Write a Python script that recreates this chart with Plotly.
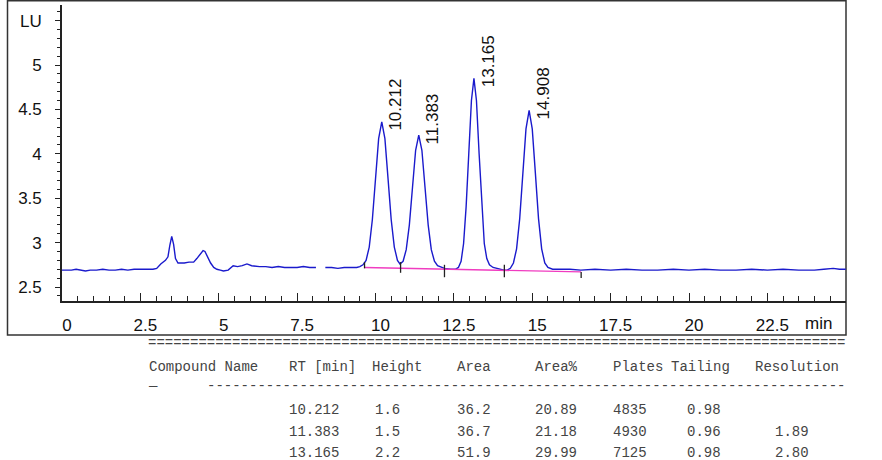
import plotly.graph_objects as go

# ---------------- data ----------------
time_min = [0.0, 0.15, 0.3, 0.45, 0.6, 0.75, 0.9, 1.1, 1.3, 1.5, 1.7, 1.9, 2.1, 2.3, 2.5, 2.7, 2.9,
            3.02, 3.15, 3.3, 3.38, 3.44, 3.5, 3.56, 3.62, 3.7, 3.76, 3.9, 4.05, 4.2, 4.3, 4.4, 4.5, 4.56,
            4.64, 4.74, 4.84, 4.94, 5.05, 5.15, 5.3, 5.46, 5.6, 5.75, 5.9, 6.05, 6.3, 6.5, 6.7, 6.9,
            7.1, 7.3, 7.5, 7.7, 7.9, 8.1, 8.25, 8.4, 8.6, 8.8, 9.0, 9.2, 9.4, 9.5, 9.6,
            9.7, 9.8, 9.9, 10.0, 10.1, 10.2, 10.3, 10.4, 10.5, 10.6, 10.7, 10.78,
            10.88, 10.98, 11.08, 11.18, 11.28, 11.38, 11.48, 11.58, 11.68, 11.78, 11.88, 11.98, 12.1, 12.2,
            12.4, 12.55, 12.645, 12.73, 12.81, 12.89, 12.975, 13.06, 13.14, 13.22, 13.305, 13.39, 13.47, 13.55,
            13.635, 13.75, 13.95, 14.1, 14.2,
            14.3, 14.4, 14.5, 14.6, 14.7, 14.8, 14.9, 15.0, 15.1, 15.2, 15.3, 15.4, 15.5, 15.65,
            15.9, 16.2, 16.55, 17.0, 17.5, 18.0, 18.5, 19.0, 19.5, 20.0, 20.5, 21.0, 21.5, 22.0,
            22.5, 23.0, 23.5, 24.0, 24.3, 24.6, 24.8, 25.0]
signal_lu = [2.69, 2.69, 2.69, 2.70, 2.69, 2.68, 2.69, 2.69, 2.70, 2.69, 2.69, 2.70, 2.69, 2.70, 2.70, 2.70, 2.70,
             2.71, 2.76, 2.80, 2.84, 2.97, 3.07, 2.98, 2.82, 2.77, 2.77, 2.77, 2.78, 2.78, 2.82, 2.87, 2.91, 2.90,
             2.84, 2.77, 2.72, 2.70, 2.69, 2.68, 2.69, 2.74, 2.73, 2.74, 2.76, 2.74, 2.73, 2.73, 2.72, 2.73,
             2.72, 2.72, 2.72, 2.73, 2.72, 2.72, None, 2.72, 2.72, 2.71, 2.72, 2.72, 2.72, 2.73, 2.75,
             2.80, 2.95, 3.26, 3.72, 4.17, 4.36, 4.17, 3.72, 3.26, 2.95, 2.80, 2.76,
             2.79, 2.92, 3.20, 3.62, 4.04, 4.21, 4.04, 3.62, 3.20, 2.92, 2.79, 2.74, 2.72, 2.71,
             2.70, 2.70, 2.72, 2.79, 2.99, 3.40, 4.00, 4.60, 4.85, 4.60, 4.00, 3.40, 2.99, 2.82,
             2.75, 2.72, 2.70, 2.69, 2.69,
             2.71, 2.77, 2.93, 3.27, 3.78, 4.28, 4.49, 4.28, 3.78, 3.27, 2.93, 2.77, 2.72, 2.70,
             2.70, 2.70, 2.69, 2.70, 2.69, 2.70, 2.69, 2.69, 2.70, 2.69, 2.70, 2.69, 2.69, 2.70,
             2.69, 2.70, 2.69, 2.69, 2.70, 2.71, 2.70, 2.70]

# integration baseline (start / end)
baseline_t = [9.65, 16.56]
baseline_y = [2.72, 2.67]

# peak boundary markers: time, top, bottom
boundary_t = [9.65, 10.80, 12.20, 14.11, 16.56]
boundary_top = [2.78, 2.78, 2.75, 2.75, 2.67]
boundary_bot = [2.71, 2.66, 2.61, 2.61, 2.60]

# labelled peaks
peak_rt = [10.20, 11.38, 13.14, 14.90]
peak_apex = [4.36, 4.21, 4.85, 4.49]
peak_labels = ["10.212", "11.383", "13.165", "14.908"]

# axis ticks
y_tickvals = [2.5, 3, 3.5, 4, 4.5, 5, 5.5]
y_ticktext = ["2.5", "3", "3.5", "4", "4.5", "5", "LU"]
x_tickvals = [0, 2.5, 5, 7.5, 10, 12.5, 15, 17.5, 20, 22.5]
x_ticktext = ["0", "2.5", "5", "7.5", "10", "12.5", "15", "17.5", "20", "22.5"]

# results table
table_headers = ["Compound Name", "RT [min]", "Height", "Area", "Area%", "Plates", "Tailing", "Resolution"]
tbl_rt = ["10.212", "11.383", "13.165"]
tbl_height = ["1.6", "1.5", "2.2"]
tbl_area = ["36.2", "36.7", "51.9"]
tbl_area_pct = ["20.89", "21.18", "29.99"]
tbl_plates = ["4835", "4930", "7125"]
tbl_tailing = ["0.98", "0.96", "0.98"]
tbl_resolution = ["", "1.89", "2.80"]

# ---------------- geometry helpers (pixel -> paper) ----------------
W, H = 882, 460
L, R, T, B = 62, 846, 5, 301


def px(x):
    return (x - L) / (R - L)


def py(y):
    return (B - y) / (B - T)


fig = go.Figure()

fig.add_trace(go.Scatter(x=time_min, y=signal_lu, mode="lines",
                         line=dict(color="#1a1acc", width=1.4), connectgaps=False,
                         hoverinfo="skip", showlegend=False))
fig.add_trace(go.Scatter(x=baseline_t, y=baseline_y, mode="lines",
                         line=dict(color="#f03cc0", width=1.4), showlegend=False))
bx, by = [], []
for t, a, b in zip(boundary_t, boundary_top, boundary_bot):
    bx += [t, t, None]
    by += [a, b, None]
fig.add_trace(go.Scatter(x=bx, y=by, mode="lines", line=dict(color="#222222", width=1.3),
                         showlegend=False))

annotations = []
for t, a, lab in zip(peak_rt, peak_apex, peak_labels):
    annotations.append(dict(x=t, y=a, xref="x", yref="y", text=lab, showarrow=False,
                            textangle=-90, xanchor="center", yanchor="bottom",
                            xshift=14, yshift=-11,
                            font=dict(family="Liberation Sans, Arial", size=17, color="#111111")))

annotations.append(dict(x=px(818), y=py(323), xref="paper", yref="paper", text="min",
                        showarrow=False, xanchor="center", yanchor="middle",
                        font=dict(family="Liberation Sans, Arial", size=17, color="#111111")))

mono = dict(family="Liberation Mono, DejaVu Sans Mono, monospace", size=14, color="#444444")


def txt(x, y, s):
    annotations.append(dict(x=px(x), y=py(y), xref="paper", yref="paper", text=s,
                            showarrow=False, xanchor="left", yanchor="middle", font=mono))


txt(146, 343, "=" * 83)
hdr_x = [147, 287, 370, 455, 533, 611, 669, 753]
for x, s in zip(hdr_x, table_headers):
    txt(x, 367, s)
txt(146, 386, "—")
txt(205, 386, "-" * 76)
row_y = [410, 432, 453]
cols = [(287, tbl_rt), (373, tbl_height), (455, tbl_area), (533, tbl_area_pct),
        (611, tbl_plates), (685, tbl_tailing), (773, tbl_resolution)]
for i, y in enumerate(row_y):
    for x, vals in cols:
        if vals[i]:
            txt(x, y, vals[i])

shapes = [dict(type="rect", xref="paper", yref="paper",
               x0=px(7.5), x1=px(846), y0=py(335), y1=py(0.8),
               line=dict(color="#333333", width=1.5), fillcolor="rgba(0,0,0,0)", layer="below")]

y_of = lambda p: 5 - (p - 65) / 88.8

fig.update_layout(
    width=W, height=H,
    margin=dict(l=L, r=W - R, t=T, b=H - B, pad=0),
    paper_bgcolor="white", plot_bgcolor="white",
    showlegend=False,
    annotations=annotations,
    shapes=shapes,
    font=dict(family="Liberation Sans, Arial", size=17, color="#111111"),
    xaxis=dict(range=[0, (R - L) / 31.35], tickvals=x_tickvals, ticktext=x_ticktext,
               showgrid=False, zeroline=False, showline=True, linecolor="#222222", linewidth=1.6,
               ticks="inside", ticklen=8, tickwidth=1.3, tickcolor="#222222",
               minor=dict(dtick=0.5, tick0=0, ticks="inside", ticklen=5, tickwidth=1.2, tickcolor="#222222"),
               ticklabelstandoff=8, ticklabelshift=5,
               tickfont=dict(family="Liberation Sans, Arial", size=17, color="#111111")),
    yaxis=dict(range=[y_of(B), y_of(T)], tickvals=y_tickvals, ticktext=y_ticktext,
               showgrid=False, zeroline=False, showline=True, linecolor="#222222", linewidth=1.6,
               ticks="outside", ticklen=5, tickwidth=1.2, tickcolor="#222222",
               minor=dict(dtick=0.1, tick0=0, ticks="outside", ticklen=3, tickwidth=1, tickcolor="#222222"),
               ticklabelstandoff=10,
               tickfont=dict(family="Liberation Sans, Arial", size=17, color="#111111")),
)

fig.write_html("out.html", config={"displayModeBar": False},
               post_script="document.body.style.margin='0px';")
